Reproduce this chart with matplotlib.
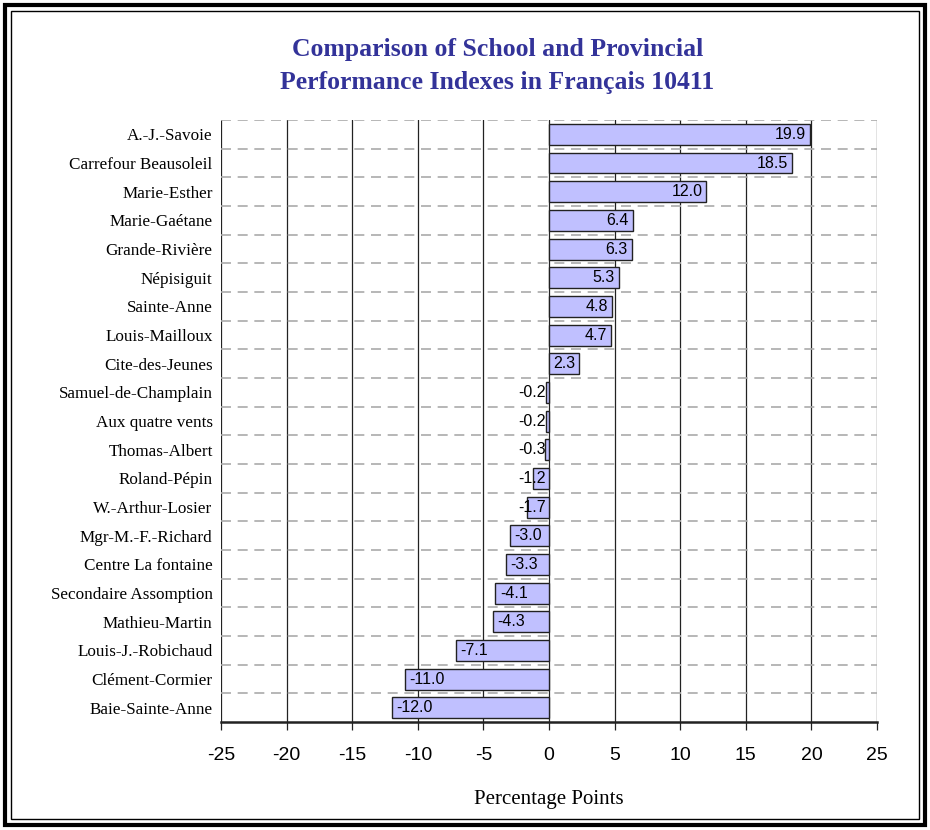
import numpy as np
import matplotlib.pyplot as plt
from matplotlib.patches import Rectangle

schools = ["A.-J.-Savoie", "Carrefour Beausoleil", "Marie-Esther", "Marie-Gaétane",
           "Grande-Rivière", "Népisiguit", "Sainte-Anne", "Louis-Mailloux",
           "Cite-des-Jeunes", "Samuel-de-Champlain", "Aux quatre vents",
           "Thomas-Albert", "Roland-Pépin", "W.-Arthur-Losier", "Mgr-M.-F.-Richard",
           "Centre La fontaine", "Secondaire Assomption", "Mathieu-Martin",
           "Louis-J.-Robichaud", "Clément-Cormier", "Baie-Sainte-Anne"]
diffs = [19.9, 18.5, 12.0, 6.4, 6.3, 5.3, 4.8, 4.7, 2.3, -0.2, -0.2, -0.3,
         -1.2, -1.7, -3.0, -3.3, -4.1, -4.3, -7.1, -11.0, -12.0]
xticks = np.arange(-25, 26, 5)

serif = "Liberation Serif"
sans = "Liberation Sans"

fig = plt.figure(figsize=(9.3, 8.3), dpi=100)
ax = fig.add_axes([0.2376, 0.130, 0.7054, 0.7254])

n = len(schools)
y = np.arange(n)
ax.barh(y, diffs, height=0.73, color="#c0c0ff", edgecolor="#222222", linewidth=1, zorder=3)

# value labels like Excel "inside end"
for yi, v in zip(y, diffs):
    txt = f"{v:.1f}"
    if v >= 0:
        ax.text(v - 0.3, yi, txt, ha="right", va="center", fontsize=11.5, family=sans, zorder=4)
    elif v <= -2.5:
        ax.text(v + 0.35, yi, txt, ha="left", va="center", fontsize=11.5, family=sans, zorder=4)
    else:
        ax.text(-0.25, yi, txt, ha="right", va="center", fontsize=11.5, family=sans, zorder=4)

ax.set_xlim(-25, 25)
ax.set_ylim(n - 0.5, -0.5)

# grid: solid vertical, dashed horizontal between rows
for xv in xticks:
    ax.axvline(xv, color="#222222", lw=0.9, zorder=1)
for b in np.arange(-0.5, n - 0.5, 1.0):
    ax.axhline(b, color="#aaaaaa", lw=1.2, ls=(0, (6, 4)), zorder=2)

for s in ["left", "right", "top"]:
    ax.spines[s].set_visible(False)
ax.spines["bottom"].set_linewidth(1.8)
ax.spines["bottom"].set_color("#222222")

ax.set_yticks(y)
ax.set_yticklabels(schools, family=serif, fontsize=12.3)
ax.tick_params(axis="y", length=0, pad=6)
ax.set_xticks(xticks)
ax.set_xticklabels([str(t) for t in xticks], family=sans, fontsize=14)
ax.tick_params(axis="x", direction="out", length=6, width=0.9, color="#222222", pad=12)

ax.set_xlabel("Percentage Points", family=serif, fontsize=15, labelpad=19)

fig.text(0.535, 0.921, "Comparison of School and Provincial\nPerformance Indexes in Français 10411",
         ha="center", va="center", family=serif, fontweight="bold", fontsize=18.5,
         color="#333399", linespacing=1.55)

# double frame around the figure
W, H = 930, 830
fig.patches.append(Rectangle((5 / W, 5 / H), 1 - 10 / W, 1 - 10 / H, transform=fig.transFigure,
                             fill=False, edgecolor="black", lw=3))
fig.patches.append(Rectangle((11 / W, 11 / H), 1 - 22 / W, 1 - 22 / H, transform=fig.transFigure,
                             fill=False, edgecolor="black", lw=1))

fig.savefig("out.png", dpi=100)
